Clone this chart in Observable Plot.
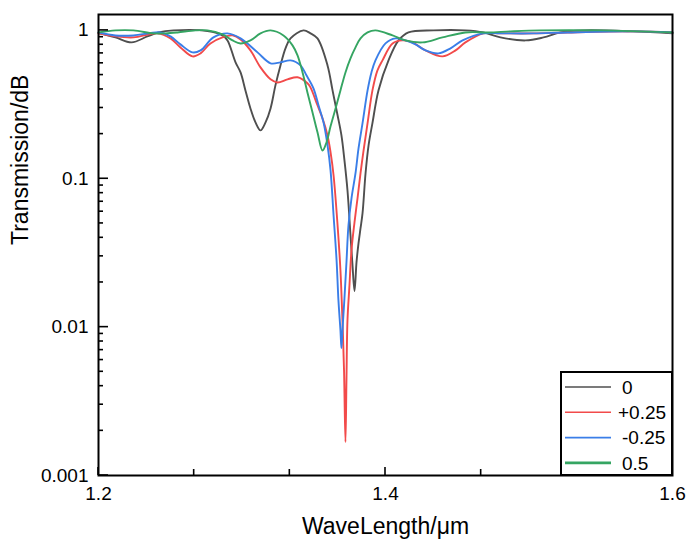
<!DOCTYPE html>
<html><head><meta charset="utf-8">
<script src="https://cdn.jsdelivr.net/npm/d3@7"></script>
<script src="https://cdn.jsdelivr.net/npm/@observablehq/plot@0.6"></script>
<style>
body{margin:0;background:#fff}
#chart svg{font-family:Arial,"Liberation Sans",sans-serif}
</style>
</head><body><div id="chart"></div>
<script>
// ---- data ----
const seriesNames = ["0", "+0.25", "-0.25", "0.5"];
const seriesColors = ["#4f4f4f", "#f24a4a", "#3a7ee8", "#35a562"];

const wl0 = [1.2000,1.2118,1.2230,1.2340,1.2418,1.2523,1.2760,1.2864,1.2899,1.2955,1.2990,1.3024,1.3059,1.3094,1.3129,1.3164,1.3199,1.3233,1.3268,1.3303,1.3338,1.3429,1.3477,1.3526,1.3596,1.3631,1.3666,1.3693,1.3714,1.3735,1.3756,1.3770,1.3784,1.3798,1.3812,1.3826,1.3840,1.3861,1.3882,1.3909,1.3951,1.4021,1.4091,1.4160,1.4334,1.4557,1.4683,1.4801,1.4976,1.5101,1.5220,1.5380,1.5728,1.6000];
const t0  = [0.960,0.897,0.830,0.910,0.969,1.000,0.990,0.925,0.856,0.609,0.521,0.394,0.298,0.240,0.212,0.240,0.298,0.426,0.581,0.757,0.883,1.000,0.955,0.883,0.581,0.394,0.268,0.196,0.133,0.0837,0.0417,0.0262,0.0175,0.0274,0.0368,0.0464,0.0586,0.109,0.168,0.237,0.394,0.628,0.856,0.969,1.000,1.000,0.969,0.897,0.856,0.897,0.969,1.000,0.985,0.955];

const wl1 = [1.2000,1.2118,1.2244,1.2411,1.2502,1.2571,1.2655,1.2711,1.2780,1.2864,1.2934,1.2990,1.3059,1.3129,1.3199,1.3247,1.3317,1.3387,1.3456,1.3477,1.3526,1.3561,1.3596,1.3617,1.3638,1.3666,1.3686,1.3700,1.3711,1.3721,1.3728,1.3735,1.3749,1.3763,1.3784,1.3805,1.3826,1.3847,1.3875,1.3909,1.3944,1.3979,1.4049,1.4118,1.4188,1.4279,1.4397,1.4488,1.4557,1.4683,1.4801,1.5031,1.5268,1.5728,1.6000];
const t1  = [0.955,0.911,0.897,0.955,0.883,0.768,0.668,0.700,0.817,0.897,0.925,0.870,0.733,0.563,0.468,0.446,0.468,0.483,0.440,0.413,0.313,0.2555,0.196,0.151,0.1056,0.0486,0.0242,0.0111,0.00513,0.00168,0.00440,0.0111,0.0192,0.0330,0.0509,0.0739,0.109,0.155,0.237,0.394,0.538,0.628,0.817,0.856,0.830,0.733,0.668,0.733,0.830,0.955,0.955,0.955,0.969,0.985,0.969];

const wl2 = [1.2000,1.2118,1.2244,1.2432,1.2502,1.2571,1.2655,1.2711,1.2801,1.2899,1.2990,1.3108,1.3199,1.3268,1.3338,1.3408,1.3449,1.3498,1.3533,1.3568,1.3596,1.3617,1.3638,1.3659,1.3672,1.3686,1.3693,1.3700,1.3714,1.3728,1.3742,1.3763,1.3791,1.3812,1.3840,1.3875,1.3902,1.3930,1.4000,1.4070,1.4139,1.4209,1.4279,1.4369,1.4453,1.4537,1.4683,1.4801,1.5031,1.5268,1.5728,1.6000];
const t2  = [0.969,0.925,0.925,0.969,0.911,0.805,0.711,0.733,0.897,0.955,0.883,0.711,0.600,0.609,0.628,0.581,0.498,0.407,0.313,0.240,0.168,0.114,0.0568,0.0283,0.0152,0.00955,0.00722,0.00955,0.0157,0.0274,0.0486,0.0739,0.109,0.160,0.237,0.394,0.521,0.628,0.817,0.883,0.856,0.805,0.733,0.700,0.757,0.856,0.955,0.955,0.955,0.969,0.985,0.969];

const wl3 = [1.2000,1.2118,1.2244,1.2383,1.2467,1.2551,1.2676,1.2760,1.2864,1.2934,1.2990,1.3059,1.3129,1.3199,1.3289,1.3352,1.3387,1.3422,1.3456,1.3491,1.3526,1.3561,1.3589,1.3617,1.3652,1.3686,1.3721,1.3756,1.3791,1.3826,1.3875,1.3930,1.4049,1.4139,1.4258,1.4397,1.4557,1.4718,1.4871,1.5080,1.5498,1.6000];
const t3  = [0.969,1.000,1.000,0.955,0.955,0.969,1.000,1.000,0.940,0.856,0.817,0.856,0.955,1.000,0.925,0.793,0.679,0.521,0.382,0.281,0.206,0.155,0.176,0.2257,0.298,0.394,0.521,0.648,0.768,0.883,0.969,1.000,0.925,0.856,0.830,0.897,0.969,0.969,0.985,1.000,1.000,0.969];

const xTicks = [1.2, 1.4, 1.6];
const xMinorTicks = [1.26667, 1.33333, 1.46667, 1.53333];
const yTicks = [1, 0.1, 0.01, 0.001];
const yTickLabels = ["1", "0.1", "0.01", "0.001"];
const yMinorTicks = [0.002,0.003,0.004,0.005,0.006,0.007,0.008,0.009,0.02,0.03,0.04,0.05,0.06,0.07,0.08,0.09,0.2,0.3,0.4,0.5,0.6,0.7,0.8,0.9];
const xLabel = "WaveLength/μm";
const yLabel = "Transmission/dB";

// ---- build table ----
const wls = [wl0, wl1, wl2, wl3], ts = [t0, t1, t2, t3];
const rows = [];
seriesNames.forEach((name, i) => wls[i].forEach((w, j) => rows.push({series: name, wl: w, t: ts[i][j]})));

const W = 686, H = 542, ML = 98, MR = 14, MT = 14, MB = 67;
const plot = Plot.plot({
  width: W, height: H,
  marginLeft: ML, marginRight: MR, marginTop: MT, marginBottom: MB,
  style: {fontFamily: "Arial, 'Liberation Sans', sans-serif", fontSize: "19px", background: "#fff", color: "#000", overflow: "visible"},
  x: {domain: [1.2, 1.6], label: null},
  y: {type: "log", domain: [0.001, 1.28], label: null},
  color: {domain: seriesNames, range: seriesColors},
  marks: [
    Plot.line(rows, {x: "wl", y: "t", z: "series", stroke: "series", strokeWidth: 1.9, curve: "catmull-rom"}),
    Plot.frame({stroke: "#000", strokeWidth: 2}),
    Plot.axisX({ticks: xTicks, tickSize: 0, tickPadding: 11, tickFormat: d => d.toFixed(1), fontSize: 19, label: null}),
    Plot.axisY({ticks: yTicks, tickSize: 0, tickPadding: 10, tickFormat: d => yTickLabels[yTicks.indexOf(d)], fontSize: 19, label: null}),
    Plot.text([xLabel], {frameAnchor: "bottom", dy: 58, fontSize: 23, text: d => d}),
    Plot.text([yLabel], {frameAnchor: "left", dx: -78, rotate: -90, fontSize: 23, text: d => d})
  ]
});

// inward ticks drawn through the plot's own scales
const xs = plot.scale("x"), ys = plot.scale("y");
const svg = d3.select(plot);
const tg = svg.append("g").attr("stroke", "#000").attr("stroke-width", 1.6);
const yb = H - MB, xl = ML;
xTicks.forEach(v => { const x = xs.apply(v); tg.append("line").attr("x1", x).attr("x2", x).attr("y1", yb).attr("y2", yb - 8); });
xMinorTicks.forEach(v => { const x = xs.apply(v); tg.append("line").attr("x1", x).attr("x2", x).attr("y1", yb).attr("y2", yb - 6); });
yTicks.forEach(v => { const y = ys.apply(v); tg.append("line").attr("x1", xl).attr("x2", xl + 10).attr("y1", y).attr("y2", y); });
yMinorTicks.forEach(v => { const y = ys.apply(v); tg.append("line").attr("x1", xl).attr("x2", xl + 5).attr("y1", y).attr("y2", y); });

// legend box (bottom-right, inside frame)
const lx = 561, ly = 372, lw = W - MR - lx, lh = yb - ly;
const lg = svg.append("g").attr("text-anchor", "start");
lg.append("rect").attr("x", lx).attr("y", ly).attr("width", lw).attr("height", lh)
  .attr("fill", "#fff").attr("stroke", "#000").attr("stroke-width", 2);
seriesNames.forEach((name, i) => {
  const y = ly + 15 + i * 25.3;
  lg.append("line").attr("x1", lx + 4).attr("x2", lx + 50).attr("y1", y).attr("y2", y)
    .attr("stroke", seriesColors[i]).attr("stroke-width", i === 3 ? 2.6 : 1.6);
  lg.append("text").attr("x", name.startsWith("+") ? lx + 57 : lx + 61).attr("y", y).attr("dy", "0.35em")
    .attr("text-anchor", "start").attr("font-size", 19).attr("fill", "#000").text(name);
});

document.getElementById("chart").appendChild(plot);
</script>
</body></html>
